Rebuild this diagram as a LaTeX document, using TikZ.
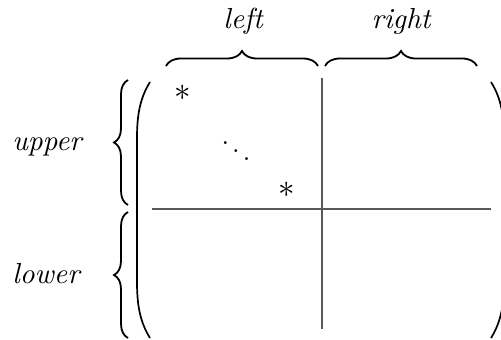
\documentclass[tikz,border=0pt]{standalone}
\usetikzlibrary{decorations.pathreplacing}
\begin{document}
\begin{tikzpicture}[x=1pt,y=-1pt,
  lbl/.style={font=\itshape, scale=2.9, anchor=base, inner sep=0pt},
  ent/.style={scale=#1, inner sep=0pt},
  rulel/.style={draw=black!65, line width=1.3pt},
  brc/.style={decorate, decoration={brace, amplitude=#1}, line width=1.8pt},
  paren/.style={line width=1.7pt}]
\useasboundingbox (0,0) rectangle (501,340);
% labels
\node[lbl] (lleft) at (243,28) {left};
\node[lbl] (lright) at (401,28) {right};
\node[lbl] (lupper) at (47,150) {upper};
\node[lbl] (llower) at (46,283) {lower};
% entries
\node[ent=3.3] (s1) at (183,93) {$\ast$};
\node[ent=2.7] (dd) at (236,143) {$\ddots$};
\node[ent=3.3] (s2) at (287,190) {$\ast$};
% rules
\coordinate (vt) at (322,78);
\coordinate (vb) at (322,329);
\coordinate (hl) at (152,209);
\coordinate (hr) at (491,209);
\draw[rulel] (vt) -- (vb);
\draw[rulel] (hl) -- (hr);
% top braces
\coordinate (tb1a) at (166,66); \coordinate (tb1b) at (318,66);
\coordinate (tb2a) at (325,66); \coordinate (tb2b) at (477,66);
\draw[brc=15pt] (tb1a) -- (tb1b);
\draw[brc=15pt] (tb2a) -- (tb2b);
% left braces
\coordinate (lb1a) at (128,205); \coordinate (lb1b) at (128,80);
\coordinate (lb2a) at (128,338); \coordinate (lb2b) at (128,212);
\draw[brc=14pt] (lb1a) -- (lb1b);
\draw[brc=14pt] (lb2a) -- (lb2b);
% parentheses
\draw[paren] (150,82) .. controls (140,98) and (137,115) .. (137,138) -- (137,282) .. controls (137,305) and (140,322) .. (150,338);
\draw[paren] (491,82) .. controls (501,98) and (504,115) .. (504,138) -- (504,282) .. controls (504,305) and (501,322) .. (491,338);
\end{tikzpicture}
\end{document}
